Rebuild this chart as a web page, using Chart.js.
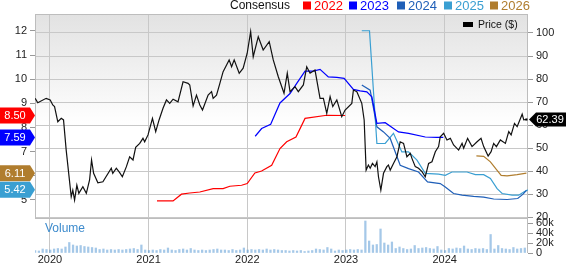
<!DOCTYPE html>
<html>
<head>
<meta charset="utf-8">
<script src="https://cdn.jsdelivr.net/npm/chart.js@4.4.1/dist/chart.umd.min.js"></script>
<style>
html, body { margin: 0; padding: 0; background: #fff; }
#wrap { width: 568px; height: 264px; }
</style>
</head>
<body>
<div id="wrap"><canvas id="chart" width="568" height="264"></canvas></div>
<script>
// prix (axe de droite), dates en annees decimales
const priceDates = [2019.851, 2019.877, 2019.962, 2020.003, 2020.029, 2020.047, 2020.080, 2020.115, 2020.138, 2020.165,
  2020.216, 2020.232, 2020.250, 2020.273, 2020.293, 2020.334, 2020.369, 2020.402, 2020.422, 2020.443,
  2020.486, 2020.537, 2020.622, 2020.637, 2020.673, 2020.707, 2020.734, 2020.775, 2020.808, 2020.842,
  2020.869, 2020.910, 2020.943, 2020.960, 2020.994, 2021.039, 2021.072, 2021.106, 2021.146, 2021.181,
  2021.214, 2021.248, 2021.298, 2021.349, 2021.400, 2021.417, 2021.451, 2021.485, 2021.519, 2021.546,
  2021.603, 2021.638, 2021.654, 2021.688, 2021.722, 2021.755, 2021.790, 2021.816, 2021.841, 2021.867,
  2021.918, 2021.958, 2021.999, 2022.034, 2022.060, 2022.111, 2022.161, 2022.222, 2022.263, 2022.314,
  2022.372, 2022.405, 2022.433, 2022.483, 2022.517, 2022.568, 2022.602, 2022.636, 2022.686, 2022.737,
  2022.771, 2022.805, 2022.839, 2022.866, 2022.907, 2022.957, 2022.991, 2023.059, 2023.075, 2023.110,
  2023.160, 2023.184, 2023.204, 2023.227, 2023.245, 2023.268, 2023.295, 2023.313, 2023.329, 2023.353,
  2023.380, 2023.414, 2023.430, 2023.448, 2023.481, 2023.516, 2023.549, 2023.583, 2023.617, 2023.651,
  2023.668, 2023.702, 2023.735, 2023.770, 2023.803, 2023.837, 2023.871, 2023.905, 2023.938, 2023.955,
  2023.989, 2024.023, 2024.057, 2024.090, 2024.141, 2024.176, 2024.192, 2024.232, 2024.277, 2024.328,
  2024.368, 2024.395, 2024.440, 2024.470, 2024.496, 2024.524, 2024.564, 2024.615, 2024.649, 2024.673,
  2024.707, 2024.734, 2024.785, 2024.801, 2024.828];
const priceVals = [71.6, 69.7, 71.6, 70.9, 68.7, 68.0, 61.4, 62.9, 62.2, 49.1,
  28.8, 31.7, 27.4, 33.9, 30.3, 33.2, 30.3, 36.1, 44.8, 39.0,
  34.9, 35.3, 41.2, 39.0, 41.2, 39.3, 37.5, 41.9, 46.2, 44.8,
  50.3, 52.0, 54.2, 52.7, 55.7, 62.9, 57.1, 62.2, 67.3, 70.9,
  69.4, 71.2, 70.1, 78.8, 78.1, 77.4, 68.3, 73.0, 68.7, 66.5,
  73.0, 74.5, 71.6, 73.0, 78.1, 83.2, 86.1, 88.3, 85.3, 88.3,
  82.5, 84.7, 91.2, 100.6, 89.7, 98.4, 92.6, 96.2, 88.3, 81.0,
  73.8, 82.5, 74.5, 76.7, 74.5, 77.4, 85.3, 82.5, 83.9, 71.6,
  71.6, 65.1, 72.3, 68.0, 70.9, 63.6, 66.5, 69.4, 75.2, 74.5,
  69.4, 62.2, 40.4, 42.6, 41.2, 43.3, 41.9, 44.0, 37.5, 31.7,
  39.0, 41.9, 42.6, 40.4, 43.3, 46.2, 52.7, 52.0, 46.2, 47.7,
  45.5, 41.9, 41.2, 39.7, 37.5, 43.3, 44.0, 48.4, 50.6, 54.9,
  56.4, 53.5, 54.2, 51.3, 49.1, 52.0, 49.9, 54.2, 50.6, 52.7,
  54.2, 50.6, 46.5, 48.4, 52.0, 50.6, 53.5, 52.0, 57.1, 55.7,
  60.7, 59.3, 64.7, 62.2, 62.39];

// consensus BPA (axe de gauche)
const eps2022Dates = [2021.085, 2021.248, 2021.333, 2021.417, 2021.519, 2021.654, 2021.755, 2021.823, 2021.942, 2021.999,
  2022.077, 2022.145, 2022.247, 2022.331, 2022.399, 2022.493, 2022.585, 2022.805, 2022.991];
const eps2022 = [4.96, 4.96, 5.24, 5.29, 5.33, 5.47, 5.47, 5.57, 5.61, 5.68,
  6.12, 6.20, 6.44, 7.13, 7.41, 7.61, 8.38, 8.51, 8.50];

const eps2023Dates = [2022.080, 2022.145, 2022.237, 2022.331, 2022.433, 2022.501, 2022.585, 2022.669, 2022.737, 2022.821,
  2022.907, 2022.981, 2023.075, 2023.143, 2023.211, 2023.262, 2023.313, 2023.397, 2023.532, 2023.634,
  2023.803, 2023.921, 2023.986];
const eps2023 = [7.64, 7.96, 8.14, 9.02, 9.41, 9.83, 10.34, 10.34, 10.41, 10.10,
  10.08, 10.04, 9.58, 9.52, 9.48, 9.27, 8.17, 8.20, 7.82, 7.76,
  7.61, 7.59, 7.59];

const eps2024Dates = [2023.160, 2023.245, 2023.313, 2023.380, 2023.448, 2023.549, 2023.634, 2023.735, 2023.826, 2023.955,
  2024.006, 2024.090, 2024.176, 2024.293, 2024.395, 2024.496, 2024.632, 2024.740, 2024.794, 2024.828];
const eps2024 = [9.76, 9.55, 8.03, 7.82, 7.55, 6.44, 6.30, 6.16, 5.75, 5.68,
  5.54, 5.27, 5.20, 5.15, 5.12, 5.04, 5.02, 5.06, 5.24, 5.40];

const eps2025Dates = [2023.160, 2023.238, 2023.313, 2023.397, 2023.481, 2023.566, 2023.634, 2023.719, 2023.803, 2023.938,
  2024.006, 2024.074, 2024.226, 2024.311, 2024.395, 2024.463, 2024.531, 2024.582, 2024.683, 2024.750,
  2024.801, 2024.842];
const eps2025 = [12.01, 12.01, 7.34, 7.34, 7.76, 6.99, 6.99, 6.65, 6.10, 6.07,
  6.02, 6.16, 6.16, 6.05, 6.05, 5.89, 5.47, 5.27, 5.20, 5.20,
  5.33, 5.42];

const eps2026Dates = [2024.321, 2024.395, 2024.463, 2024.531, 2024.572, 2024.632, 2024.734, 2024.828];
const eps2026 = [6.83, 6.81, 6.58, 6.23, 6.02, 6.00, 6.05, 6.11];

// volume (milliers), une barre toutes les deux semaines
const volStart = 2019.85;
const volStep = 1 / 26;
const volumes = [5, 4, 8, 7, 6, 8, 9, 8, 12, 21, 16, 14, 15, 13, 12, 11, 10, 7, 8, 6,
  7, 6, 7, 6, 7, 8, 9, 7, 16, 6, 5, 6, 5, 7, 6, 10, 6, 5, 7, 8,
  6, 9, 6, 5, 6, 5, 6, 7, 8, 6, 6, 5, 7, 5, 6, 10, 6, 7, 6, 7,
  6, 8, 6, 7, 6, 5, 5, 4, 5, 4, 5, 3, 4, 5, 8, 7, 6, 11, 8, 4,
  6, 5, 6, 7, 6, 7, 6, 64, 24, 16, 17, 48, 20, 16, 22, 9, 12, 9, 7, 8,
  15, 9, 10, 11, 9, 8, 13, 6, 5, 9, 8, 10, 9, 14, 8, 7, 9, 8, 9, 7,
  37, 8, 15, 9, 8, 7, 11, 8, 9, 10];

const yearTicks = [2020, 2021, 2022, 2023, 2024];
const epsTicks = [5, 6, 7, 8, 9, 10, 11, 12];
const priceTicks = [20, 30, 40, 50, 60, 70, 80, 90, 100];
const volTicks = [0, 20, 40, 60];

const seriesNames = ['2022', '2023', '2024', '2025', '2026'];
const seriesColors = ['#ff0000', '#0000ff', '#1f5fb8', '#3a9fd2', '#b07d2e'];

// etiquettes a gauche (derniere valeur)
const badgeVals = [8.50, 7.59, 6.11, 5.42];
const badgeColors = ['#ff0000', '#0000ff', '#b07d2e', '#3a9fd2'];
const lastPrice = 62.39;

const FONT = 'Liberation Sans, Arial, sans-serif';

function pts(dates, vals) {
    return dates.map((d, i) => ({ x: d, y: vals[i] }));
}

const volData = volumes.map((v, i) => ({ x: volStart + i * volStep, y: v }));

const epsSets = [[eps2022Dates, eps2022], [eps2023Dates, eps2023], [eps2024Dates, eps2024],
    [eps2025Dates, eps2025], [eps2026Dates, eps2026]];

const datasets = [{
    type: 'line',
    label: 'Price ($)',
    data: pts(priceDates, priceVals),
    yAxisID: 'yp',
    borderColor: '#111111',
    borderWidth: 1.2,
    pointRadius: ctx => ctx.dataIndex === priceVals.length - 1 ? 1.5 : 0,
    pointStyle: 'rect',
    pointBackgroundColor: '#000',
    pointBorderWidth: 0,
    tension: 0
}];
epsSets.forEach((s, i) => {
    datasets.push({
        type: 'line',
        label: seriesNames[i],
        data: pts(s[0], s[1]),
        yAxisID: 'y',
        borderColor: seriesColors[i],
        borderWidth: 1.2,
        pointRadius: 0,
        tension: 0
    });
});
datasets.push({
    type: 'bar',
    label: 'Volume',
    data: volData,
    yAxisID: 'yv',
    backgroundColor: 'rgba(91, 155, 213, 0.55)',
    barThickness: 1.6
});

function leftBadge(ctx, y, color, text) {
    ctx.beginPath();
    ctx.moveTo(0, y - 8);
    ctx.lineTo(30, y - 8);
    ctx.lineTo(35, y);
    ctx.lineTo(30, y + 8);
    ctx.lineTo(0, y + 8);
    ctx.closePath();
    ctx.fillStyle = color;
    ctx.fill();
    ctx.fillStyle = '#fff';
    ctx.font = '11px ' + FONT;
    ctx.textAlign = 'center';
    ctx.textBaseline = 'middle';
    ctx.fillText(text, 15, y + 0.5);
}

const decorPlugin = {
    id: 'decor',
    beforeDraw(chart) {
        const { ctx, chartArea: a, scales } = chart;
        const mainBottom = scales.yp.bottom;
        const g = ctx.createLinearGradient(0, a.top, 0, mainBottom);
        g.addColorStop(0, '#e2e2e2');
        g.addColorStop(0.55, '#ffffff');
        ctx.save();
        ctx.fillStyle = g;
        ctx.fillRect(a.left, a.top, a.right - a.left, mainBottom - a.top);
        ctx.restore();
    },
    beforeDatasetsDraw(chart) {
        const { ctx, chartArea: a, scales } = chart;
        ctx.save();
        ctx.strokeStyle = '#bdbdbd';
        ctx.lineWidth = 1;
        ctx.strokeRect(Math.round(a.left) + 0.5, Math.round(a.top) + 0.5, Math.round(a.right - a.left) - 1, Math.round(scales.yp.bottom - a.top));
        ctx.beginPath();
        ctx.moveTo(a.right - 0.5, a.top);
        ctx.lineTo(a.right - 0.5, a.bottom);
        ctx.stroke();
        // libelle Volume
        ctx.fillStyle = '#3d8bcd';
        ctx.font = '12px ' + FONT;
        ctx.textAlign = 'left';
        ctx.textBaseline = 'middle';
        ctx.fillText('Volume', a.left + 10, scales.yv.top + 11);
        ctx.restore();
    },
    afterDraw(chart) {
        const { ctx, chartArea: a, scales } = chart;
        ctx.save();
        // legende du haut
        ctx.textBaseline = 'middle';
        ctx.textAlign = 'left';
        ctx.font = '12px ' + FONT;
        ctx.fillStyle = '#111';
        ctx.fillText('Consensus', 230, 6);
        const boxX = [303, 349, 397, 444, 490];
        ctx.font = '13px ' + FONT;
        seriesNames.forEach((n, i) => {
            ctx.fillStyle = seriesColors[i];
            ctx.fillRect(boxX[i], 1.5, 8, 8);
            ctx.fillText(n, boxX[i] + 11, 6);
        });
        // legende prix
        ctx.fillStyle = '#000';
        ctx.fillRect(463, 22, 10, 5);
        ctx.fillStyle = '#111';
        ctx.font = '10.5px ' + FONT;
        ctx.fillText('Price ($)', 478, 25);
        // etiquettes gauche
        badgeVals.forEach((v, i) => {
            leftBadge(ctx, scales.y.getPixelForValue(v), badgeColors[i], v.toFixed(2));
        });
        // etiquette prix
        const py = scales.yp.getPixelForValue(lastPrice);
        ctx.beginPath();
        ctx.moveTo(a.right + 1, py);
        ctx.lineTo(a.right + 8, py - 7);
        ctx.lineTo(566, py - 7);
        ctx.lineTo(566, py + 7);
        ctx.lineTo(a.right + 8, py + 7);
        ctx.closePath();
        ctx.fillStyle = '#000';
        ctx.fill();
        ctx.fillStyle = '#fff';
        ctx.font = '11px ' + FONT;
        ctx.textAlign = 'center';
        ctx.fillText(lastPrice.toFixed(2), 550, py + 0.5);
        ctx.restore();
    }
};

const tickFont = { family: FONT, size: 11 };

new Chart(document.getElementById('chart').getContext('2d'), {
    data: { datasets: datasets },
    options: {
        responsive: false,
        animation: false,
        devicePixelRatio: 1,
        layout: { padding: { top: 14, left: 0, right: 0, bottom: 0 } },
        plugins: { legend: { display: false }, tooltip: { enabled: false } },
        scales: {
            x: {
                type: 'linear',
                position: 'bottom',
                offset: false,
                min: 2019.849,
                max: 2024.844,
                afterBuildTicks: s => { s.ticks = yearTicks.map(v => ({ value: v })); },
                afterFit: s => { s.height = 11; },
                ticks: { font: tickFont, color: '#222', padding: 0, maxRotation: 0, autoSkip: false, callback: v => String(v) },
                grid: { color: '#c8c8c8', drawTicks: false, offset: false },
                border: { display: false }
            },
            y: {
                type: 'linear',
                position: 'left',
                min: 2.804,
                max: 12.704,
                afterBuildTicks: s => { s.ticks = epsTicks.map(v => ({ value: v })); },
                afterFit: s => { s.width = 35; },
                ticks: { font: tickFont, color: '#222', padding: 3, autoSkip: false },
                grid: { drawOnChartArea: false, tickLength: 5, color: '#999' },
                border: { display: false }
            },
            yp: {
                type: 'linear',
                position: 'right',
                stack: 'right',
                stackWeight: 204,
                min: 19.57,
                max: 108.26,
                afterBuildTicks: s => { s.ticks = priceTicks.map(v => ({ value: v })); },
                afterFit: s => { s.width = 40; },
                ticks: { font: tickFont, color: '#222', padding: 3, autoSkip: false },
                grid: { color: '#c8c8c8', tickLength: 5, tickColor: '#999' },
                border: { display: false }
            },
            yv: {
                type: 'linear',
                position: 'right',
                stack: 'right',
                stackWeight: 35,
                min: 0,
                max: 70,
                afterBuildTicks: s => { s.ticks = volTicks.map(v => ({ value: v })); },
                afterFit: s => { s.width = 40; },
                ticks: { font: tickFont, color: '#222', padding: 3, autoSkip: false, callback: v => v === 0 ? '0' : v + 'k' },
                grid: { drawOnChartArea: false, tickLength: 5, color: '#999' },
                border: { display: false }
            }
        }
    },
    plugins: [decorPlugin]
});
</script>
</body>
</html>
